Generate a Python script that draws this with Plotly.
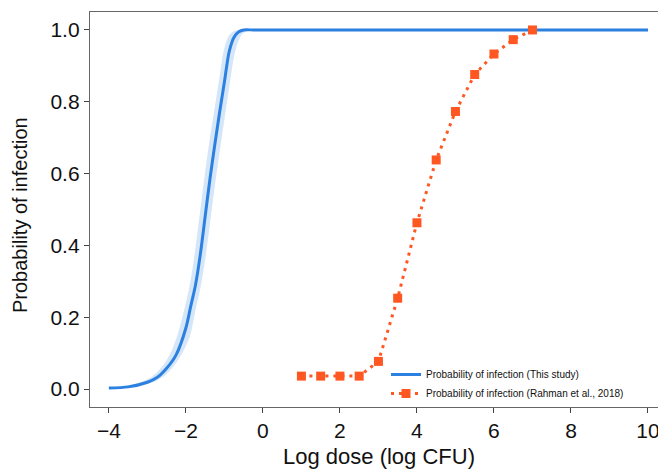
import plotly.graph_objects as go

# Blue curve (This study): log dose vs probability, with uncertainty band
dose_study = [-4.0, -3.5, -3.0, -2.75, -2.5, -2.25, -2.0, -1.875, -1.75, -1.625, -1.5,
              -1.375, -1.25, -1.125, -1.0, -0.875, -0.75, -0.625, -0.5, -0.25, 0.0, 10.0]
p_study = [0.003, 0.006, 0.019, 0.032, 0.058, 0.096, 0.17, 0.23, 0.29, 0.375, 0.48,
           0.585, 0.68, 0.77, 0.855, 0.94, 0.98, 0.995, 1.0, 1.0, 1.0, 1.0]
p_study_low = [0.002, 0.005, 0.014, 0.024, 0.042, 0.073, 0.12, 0.155, 0.22, 0.28, 0.36,
               0.46, 0.565, 0.66, 0.75, 0.84, 0.925, 0.972, 0.992, 1.0, 1.0, 1.0]
p_study_high = [0.004, 0.008, 0.027, 0.047, 0.08, 0.14, 0.24, 0.305, 0.395, 0.50, 0.605,
                0.70, 0.785, 0.87, 0.95, 0.985, 0.997, 1.0, 1.0, 1.0, 1.0, 1.0]

# Orange points (Rahman et al., 2018)
dose_rahman = [1.0, 1.5, 2.0, 2.5, 3.0, 3.5, 4.0, 4.5, 5.0, 5.5, 6.0, 6.5, 7.0]
p_rahman = [0.036, 0.036, 0.036, 0.036, 0.077, 0.253, 0.463, 0.638, 0.773, 0.876, 0.933, 0.973, 1.0]

x_ticks = [-4, -2, 0, 2, 4, 6, 8, 10]
y_ticks = [0.0, 0.2, 0.4, 0.6, 0.8, 1.0]

BLUE = "#2C80E0"
BAND = "rgba(44,128,224,0.2)"
ORANGE = "#FF5722"
FONT = "Liberation Sans, Arial, Helvetica, sans-serif"

fig = go.Figure()
fig.add_trace(go.Scatter(x=dose_study, y=p_study_low, mode="lines", line=dict(width=0, shape="spline"),
                         showlegend=False, hoverinfo="skip"))
fig.add_trace(go.Scatter(x=dose_study, y=p_study_high, mode="lines", line=dict(width=0, shape="spline"),
                         fill="tonexty", fillcolor=BAND, showlegend=False, hoverinfo="skip"))
fig.add_trace(go.Scatter(x=dose_study, y=p_study, mode="lines",
                         line=dict(color=BLUE, width=3, shape="spline", smoothing=0.8),
                         name="Probability of infection (This study)"))
fig.add_trace(go.Scatter(x=dose_rahman, y=p_rahman, mode="lines+markers",
                         line=dict(color=ORANGE, width=3, dash="3px,5px"),
                         marker=dict(symbol="square", size=9, color=ORANGE),
                         name="Probability of infection (Rahman et al., 2018)"))

W, H = 658, 470
L, T, B = 90, 12, 63
plot_w = W - L
plot_h = H - T - B

fig.update_layout(
    width=W, height=H,
    margin=dict(l=L, r=0, t=T, b=B, pad=0),
    plot_bgcolor="white", paper_bgcolor="white",
    font=dict(family=FONT, color="#111111"),
    showlegend=True,
    legend=dict(x=(386 - L) / plot_w, y=(H - B - 360) / plot_h, xanchor="left", yanchor="top",
                font=dict(size=10, family=FONT), bgcolor="rgba(0,0,0,0)", borderwidth=0,
                tracegroupgap=0, traceorder="normal"),
    xaxis=dict(range=[-4.49, 10.26], tickvals=x_ticks, ticks="outside", ticklen=5, tickwidth=1.2,
               tickcolor="#444", showline=True, linecolor="#666", linewidth=1.3, mirror=True,
               showgrid=False, zeroline=False, tickfont=dict(size=21, family=FONT, color="#111"),
               automargin=False, ticklabeloverflow="allow"),
    yaxis=dict(range=[-0.05, 1.05], tickvals=y_ticks, tickformat=".1f", ticks="outside", ticklen=5,
               tickwidth=1.2, tickcolor="#444", showline=True, linecolor="#666", linewidth=1.3,
               mirror=False, showgrid=False, zeroline=False,
               tickfont=dict(size=21, family=FONT, color="#111"), automargin=False),
    annotations=[
        dict(text="Log dose (log CFU)", xref="paper", yref="paper", x=(379 - L) / plot_w,
             y=(H - B - 456) / plot_h, xanchor="center", yanchor="middle", showarrow=False,
             font=dict(size=22, family=FONT, color="#111")),
        dict(text="Probability of infection", xref="paper", yref="paper", x=(20 - L) / plot_w,
             y=(H - B - 215) / plot_h, xanchor="center", yanchor="middle", textangle=-90,
             showarrow=False, font=dict(size=20, family=FONT, color="#111")),
    ],
)

fig.write_html("out.html")
